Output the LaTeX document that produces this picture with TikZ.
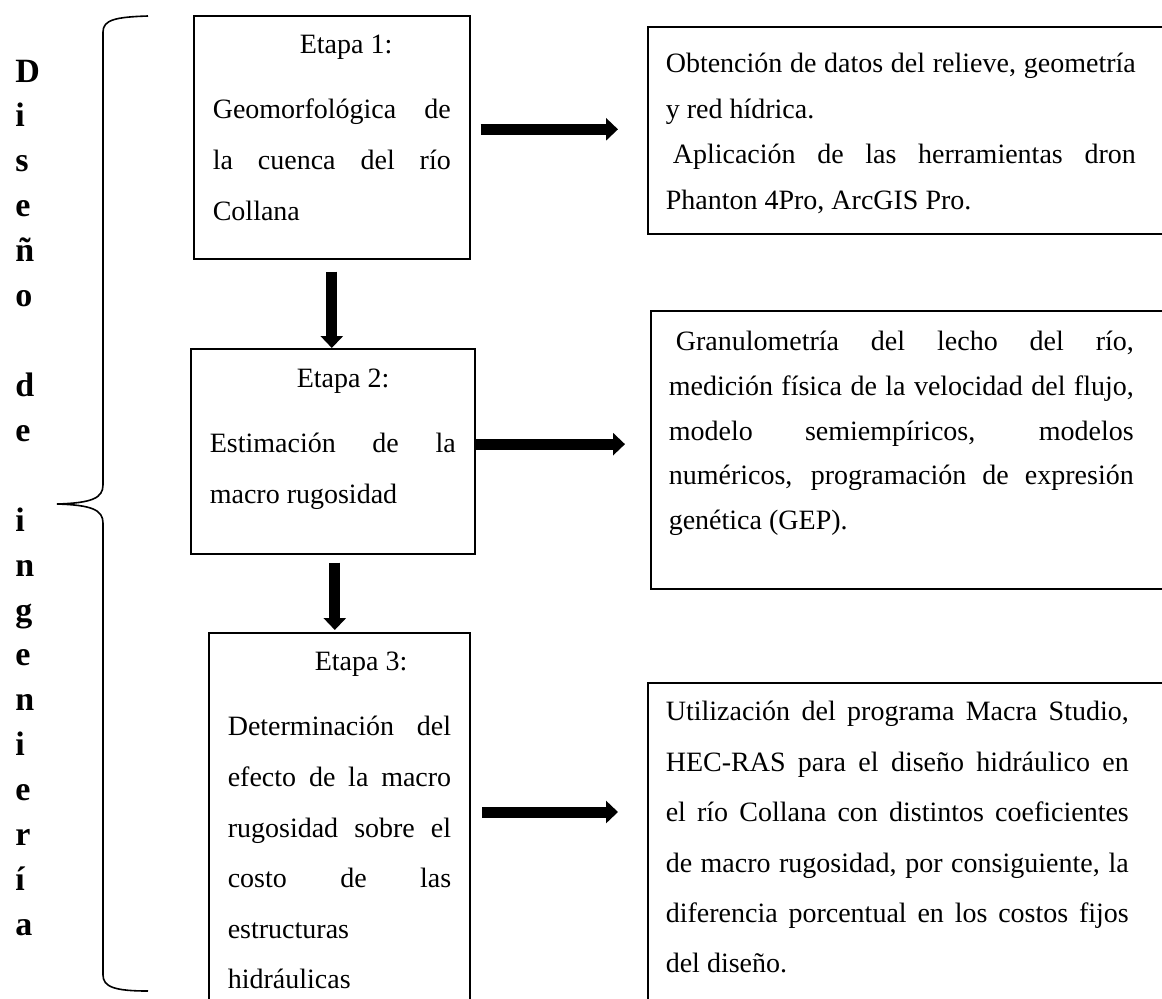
\documentclass[tikz,border=0pt]{standalone}
\usepackage{fontspec}
\setmainfont{Liberation Serif}
\usepackage{tikz}
\usetikzlibrary{arrows.meta}
\hyphenpenalty=10000
\exhyphenpenalty=10000

\tikzset{
  stagebox/.style={draw,line width=0.8pt,anchor=north west,inner xsep=9.5pt,inner ysep=0pt,align=justify,
    font=\fontsize{14}{25.3}\selectfont},
  notebox/.style={stagebox,inner xsep=9pt,text width=300pt},
  fatarrow/.style={line width=5.5pt,-{Triangle[length=6pt,width=11pt]}},
  bracket/.style={line width=0.8pt}
}
\newcommand{\etapa}[1]{\hspace*{43.5pt}Etapa #1:\par\vspace{7.2pt}}

\begin{document}
\begin{tikzpicture}[x=0.5pt,y=-0.5pt]
\useasboundingbox (0,0) rectangle (1162,998);
\clip (0,0) rectangle (1162,998);

\node[anchor=base west,inner sep=0pt,text width=20pt,align=left,font=\bfseries\fontsize{17}{22.46}\selectfont] (titulo) at (15,82)
  {D\\i\\s\\e\\ñ\\o\\\mbox{}\\d\\e\\\mbox{}\\i\\n\\g\\e\\n\\i\\e\\r\\í\\a};
\draw[bracket] (148,16) .. controls (115,17) and (103,20) .. (103,32) -- (103,485)
  .. controls (103,498) and (92,503) .. (57,504) .. controls (92,505) and (103,510) .. (103,523)
  -- (103,975) .. controls (103,987) and (115,991) .. (148,991);

\node[stagebox,text width=119pt,text height=19pt,text depth=102.5pt] (b1) at (193,15)
  {\etapa{1}Geomorfológica de\linebreak la cuenca del río\linebreak Collana};
\node[stagebox,text width=123pt,text height=19.35pt,text depth=83.2pt] (b2) at (190,348)
  {\etapa{2}Estimación de la\linebreak macro rugosidad};
\node[stagebox,text width=111.7pt,text height=19pt,text depth=200pt] (b3) at (208,632)
  {\etapa{3}Determinación del\linebreak efecto de la macro\linebreak rugosidad sobre el\linebreak costo de las\linebreak estructuras\linebreak hidráulicas};

\node[notebox,text height=22.85pt,text depth=80.65pt,font=\fontsize{14}{22.75}\selectfont] (r1) at (647,26)
  {\rightskip=65pt\relax Obtención de datos del relieve, geometría\linebreak y red hídrica.\par
   \hspace*{3.5pt}Aplicación de las herramientas dron\linebreak Phanton 4Pro, ArcGIS Pro.\par};
\node[notebox,text height=20pt,text depth=119pt,font=\fontsize{14}{22.3}\selectfont] (r2) at (650,310)
  {\rightskip=67.5pt\relax\hspace*{3.5pt}Granulometría del lecho del río,\linebreak medición física de la velocidad del flujo,\linebreak modelo semiempíricos, modelos\linebreak numéricos, programación de expresión\linebreak genética (GEP).\par};
\node[notebox,text height=19pt,text depth=170pt,font=\fontsize{14}{25.2}\selectfont] (r3) at (647,682)
  {\rightskip=68.5pt\relax Utilización del programa Macra Studio,\linebreak HEC-RAS para el diseño hidráulico en\linebreak el río Collana con distintos coeficientes\linebreak de macro rugosidad, por consiguiente, la\linebreak diferencia porcentual en los costos fijos\linebreak del diseño.\par};

\draw[fatarrow,shorten <=5pt,shorten >=14.5pt] ([yshift=4pt]b1.east) -- ([yshift=4pt]b1.east -| r1.west);
\draw[fatarrow,shorten >=12.5pt] ([yshift=3.6pt]b2.east) -- ([yshift=3.6pt]b2.east -| r2.west);
\draw[fatarrow,shorten <=5.5pt,shorten >=14.5pt] ([yshift=-90pt]b3.north east) -- ([yshift=-90pt]b3.north east -| r3.west);
\draw[fatarrow,shorten <=6pt] (b1.south) -- (b1.south |- b2.north);
\draw[fatarrow,shorten <=4pt,shorten >=1pt] ([xshift=1pt]b2.south) -- ([xshift=1pt]b2.south |- b3.north);
\end{tikzpicture}
\end{document}
